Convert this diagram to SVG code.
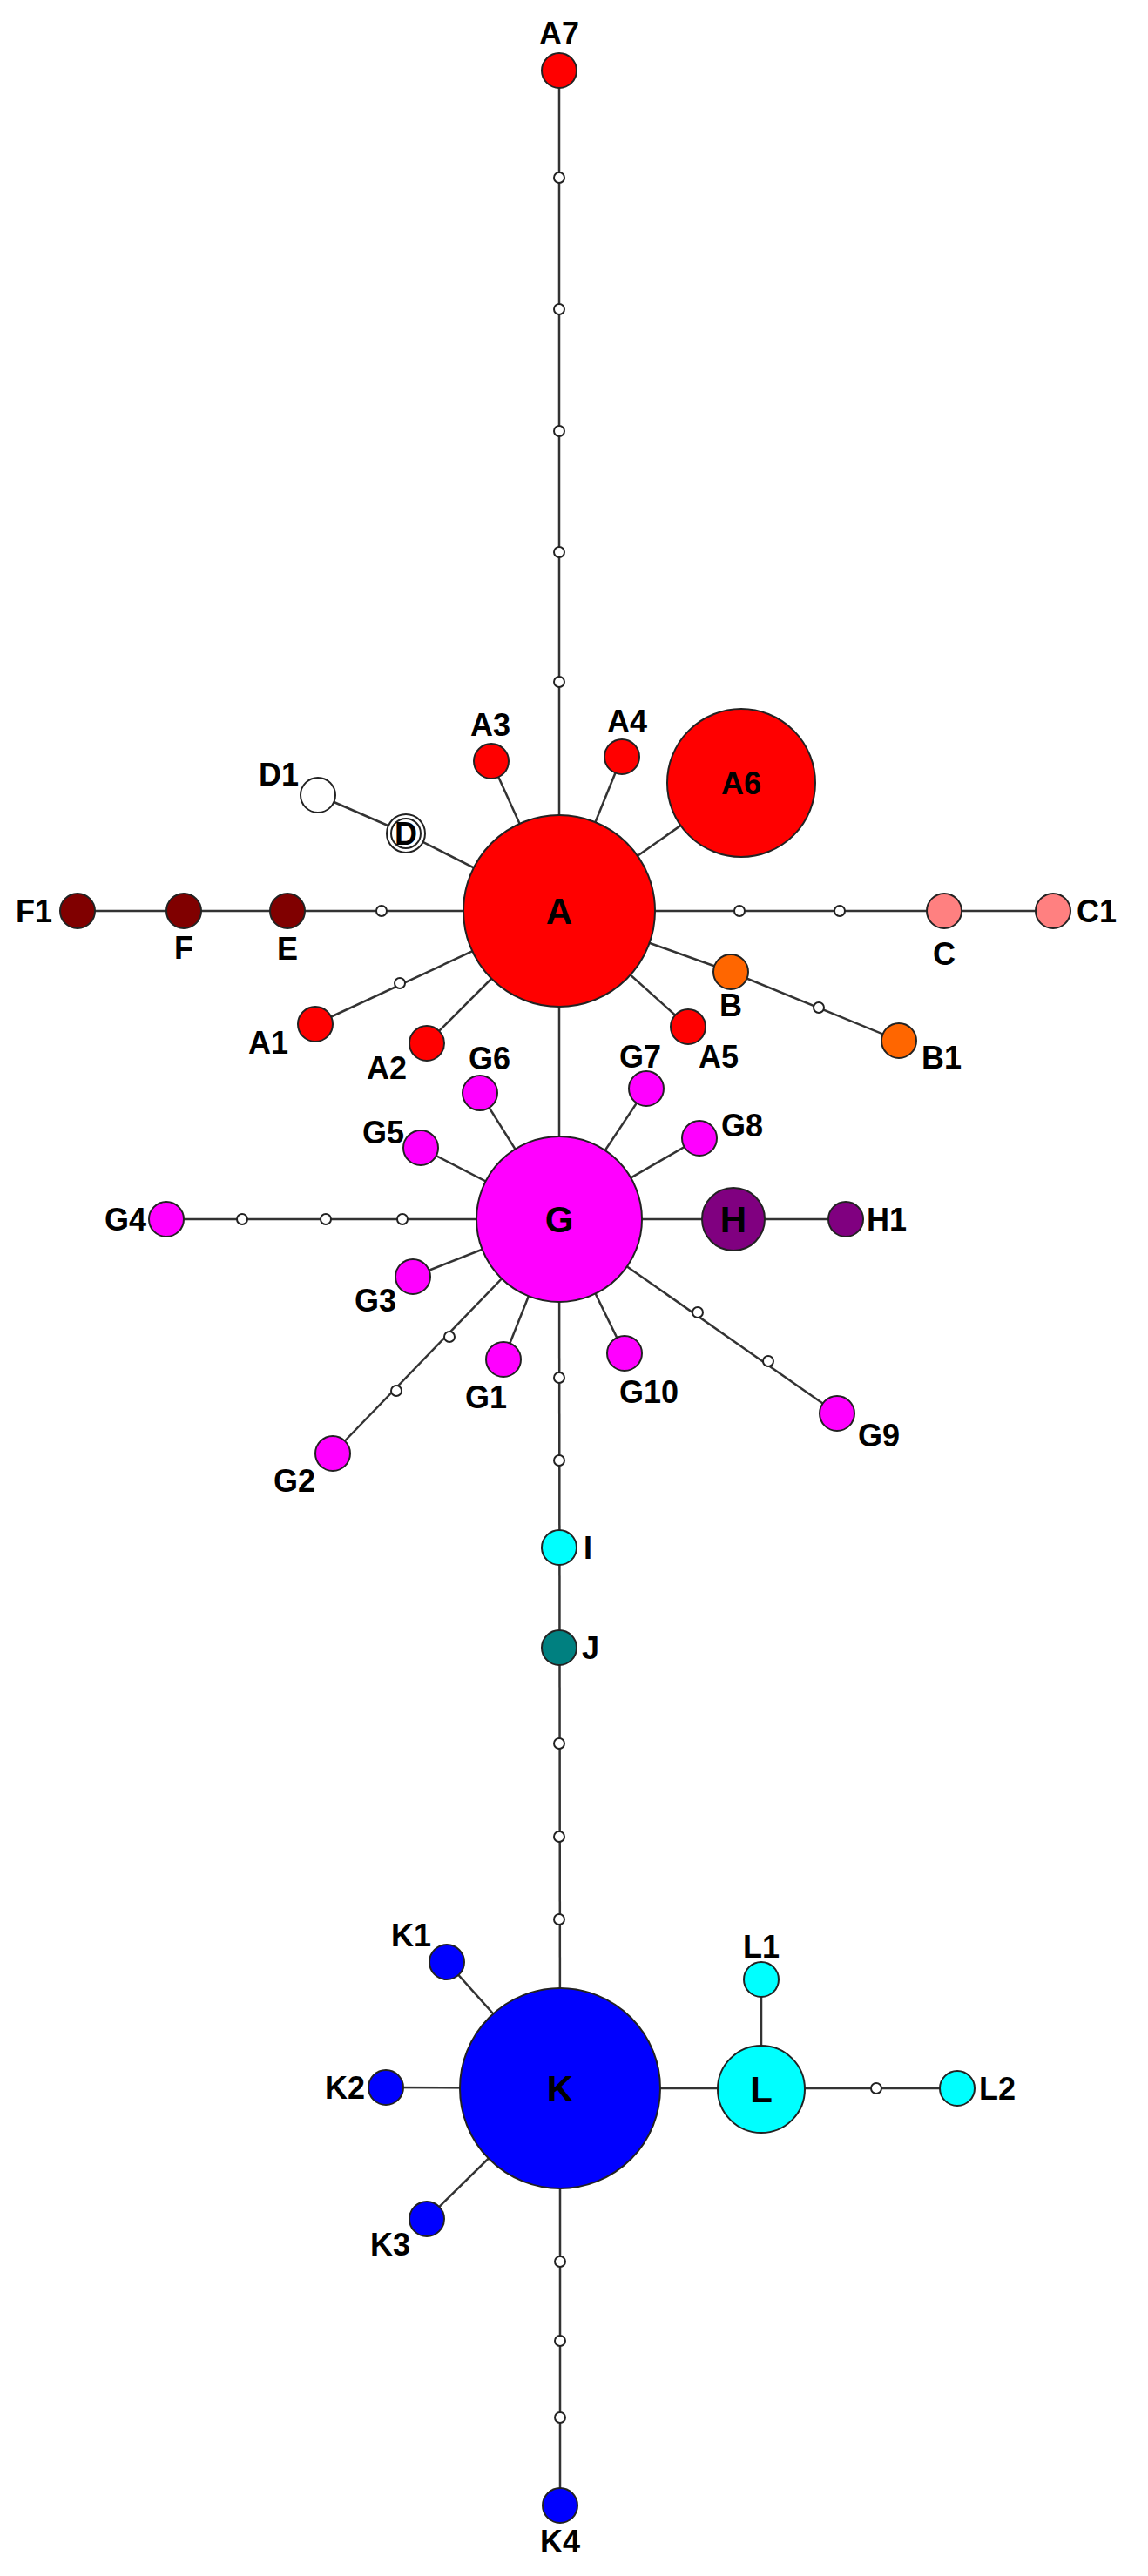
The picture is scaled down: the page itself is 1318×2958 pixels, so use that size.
<svg xmlns="http://www.w3.org/2000/svg" width="1318" height="2958" viewBox="0 0 1318 2958">
<style>
.e{stroke:#333;stroke-width:2.5;fill:none}
.n{stroke:#222;stroke-width:2}
.m{fill:#fff;stroke:#222;stroke-width:2}
text{font-family:"Liberation Sans",Arial,sans-serif;font-weight:bold;font-size:36px;fill:#000;dominant-baseline:central}
.c{text-anchor:middle}.r{text-anchor:end}
.big{font-size:42px}
</style>
<rect width="1318" height="2958" fill="#fff"/>
<g id="connectors">
<line class="e" x1="642" y1="81" x2="642" y2="1046"/>
<line class="e" x1="642" y1="1046" x2="642" y2="1400"/>
<line class="e" x1="642" y1="1400" x2="643" y2="2398"/>
<line class="e" x1="643" y1="2398" x2="643" y2="2877"/>
<line class="e" x1="89" y1="1046" x2="642" y2="1046"/>
<line class="e" x1="642" y1="1046" x2="1209" y2="1046"/>
<line class="e" x1="642" y1="1046" x2="564" y2="874"/>
<line class="e" x1="642" y1="1046" x2="714" y2="869"/>
<line class="e" x1="642" y1="1046" x2="851" y2="899"/>
<line class="e" x1="642" y1="1046" x2="466" y2="957"/>
<line class="e" x1="466" y1="957" x2="365" y2="913"/>
<line class="e" x1="642" y1="1046" x2="362" y2="1176"/>
<line class="e" x1="642" y1="1046" x2="490" y2="1198"/>
<line class="e" x1="642" y1="1046" x2="790" y2="1179"/>
<line class="e" x1="642" y1="1046" x2="839" y2="1116"/>
<line class="e" x1="839" y1="1116" x2="1032" y2="1195"/>
<line class="e" x1="642" y1="1400" x2="551" y2="1255"/>
<line class="e" x1="642" y1="1400" x2="483" y2="1318"/>
<line class="e" x1="642" y1="1400" x2="191" y2="1400"/>
<line class="e" x1="642" y1="1400" x2="474" y2="1466"/>
<line class="e" x1="642" y1="1400" x2="382" y2="1669"/>
<line class="e" x1="642" y1="1400" x2="578" y2="1561"/>
<line class="e" x1="642" y1="1400" x2="717" y2="1554"/>
<line class="e" x1="642" y1="1400" x2="961" y2="1623"/>
<line class="e" x1="642" y1="1400" x2="742" y2="1250"/>
<line class="e" x1="642" y1="1400" x2="803" y2="1307"/>
<line class="e" x1="642" y1="1400" x2="971" y2="1400"/>
<line class="e" x1="643" y1="2398" x2="513" y2="2253"/>
<line class="e" x1="643" y1="2398" x2="443" y2="2397"/>
<line class="e" x1="643" y1="2398" x2="490" y2="2548"/>
<line class="e" x1="643" y1="2398" x2="1099" y2="2398"/>
<line class="e" x1="874" y1="2399" x2="874" y2="2273"/>
</g>
<g id="median-vectors">
<circle class="m" cx="642" cy="204" r="6"/><circle class="m" cx="642" cy="355" r="6"/><circle class="m" cx="642" cy="495" r="6"/><circle class="m" cx="642" cy="634" r="6"/><circle class="m" cx="642" cy="783" r="6"/>
<circle class="m" cx="438" cy="1046" r="6"/><circle class="m" cx="849" cy="1046" r="6"/><circle class="m" cx="964" cy="1046" r="6"/>
<circle class="m" cx="459" cy="1129" r="6"/><circle class="m" cx="940" cy="1157" r="6"/>
<circle class="m" cx="278" cy="1400" r="6"/><circle class="m" cx="374" cy="1400" r="6"/><circle class="m" cx="462" cy="1400" r="6"/>
<circle class="m" cx="516" cy="1535" r="6"/><circle class="m" cx="455" cy="1597" r="6"/>
<circle class="m" cx="801" cy="1507" r="6"/><circle class="m" cx="882" cy="1563" r="6"/>
<circle class="m" cx="642" cy="1582" r="6"/><circle class="m" cx="642" cy="1677" r="6"/>
<circle class="m" cx="642" cy="2002" r="6"/><circle class="m" cx="642" cy="2109" r="6"/><circle class="m" cx="642" cy="2204" r="6"/>
<circle class="m" cx="1006" cy="2398" r="6"/>
<circle class="m" cx="643" cy="2597" r="6"/><circle class="m" cx="643" cy="2688" r="6"/><circle class="m" cx="643" cy="2776" r="6"/>
</g>
<g id="A7"><circle class="n" cx="642" cy="81" r="20" fill="#ff0000"/><text class="c" x="642" y="38">A7</text></g>
<g id="A"><circle class="n" cx="642" cy="1046" r="110" fill="#ff0000"/><text class="c big" x="642" y="1046">A</text></g>
<g id="A6"><circle class="n" cx="851" cy="899" r="85" fill="#ff0000"/><text class="c" x="851" y="899">A6</text></g>
<g id="A3"><circle class="n" cx="564" cy="874" r="20" fill="#ff0000"/><text class="c" x="563" y="832">A3</text></g>
<g id="A4"><circle class="n" cx="714" cy="869" r="20" fill="#ff0000"/><text class="c" x="720" y="828">A4</text></g>
<g id="D1"><circle class="n" cx="365" cy="913" r="20" fill="#fff"/><text class="r" x="343" y="889">D1</text></g>
<g id="D"><circle class="n" cx="466" cy="957" r="22" fill="#fff"/><circle cx="466" cy="957" r="17" fill="none" stroke="#222" stroke-width="2"/><text class="c" x="466" y="957">D</text></g>
<g id="F1"><circle class="n" cx="89" cy="1046" r="20" fill="#800000"/><text class="r" x="60" y="1046">F1</text></g>
<g id="F"><circle class="n" cx="211" cy="1046" r="20" fill="#800000"/><text class="c" x="211" y="1088">F</text></g>
<g id="E"><circle class="n" cx="330" cy="1046" r="20" fill="#800000"/><text class="c" x="330" y="1089">E</text></g>
<g id="C"><circle class="n" cx="1084" cy="1046" r="20" fill="#ff8080"/><text class="c" x="1084" y="1095">C</text></g>
<g id="C1"><circle class="n" cx="1209" cy="1046" r="20" fill="#ff8080"/><text x="1236" y="1046">C1</text></g>
<g id="B"><circle class="n" cx="839" cy="1116" r="20" fill="#ff6600"/><text class="c" x="839" y="1154">B</text></g>
<g id="B1"><circle class="n" cx="1032" cy="1195" r="20" fill="#ff6600"/><text x="1058" y="1214">B1</text></g>
<g id="A5"><circle class="n" cx="790" cy="1179" r="20" fill="#ff0000"/><text x="802" y="1213">A5</text></g>
<g id="A2"><circle class="n" cx="490" cy="1198" r="20" fill="#ff0000"/><text class="r" x="467" y="1226">A2</text></g>
<g id="A1"><circle class="n" cx="362" cy="1176" r="20" fill="#ff0000"/><text class="r" x="331" y="1197">A1</text></g>
<g id="G"><circle class="n" cx="642" cy="1400" r="95" fill="#ff00ff"/><text class="c big" x="642" y="1400">G</text></g>
<g id="G6"><circle class="n" cx="551" cy="1255" r="20" fill="#ff00ff"/><text class="c" x="562" y="1215">G6</text></g>
<g id="G5"><circle class="n" cx="483" cy="1318" r="20" fill="#ff00ff"/><text class="r" x="464" y="1300">G5</text></g>
<g id="G4"><circle class="n" cx="191" cy="1400" r="20" fill="#ff00ff"/><text class="r" x="168" y="1400">G4</text></g>
<g id="G3"><circle class="n" cx="474" cy="1466" r="20" fill="#ff00ff"/><text class="r" x="455" y="1493">G3</text></g>
<g id="G2"><circle class="n" cx="382" cy="1669" r="20" fill="#ff00ff"/><text class="r" x="362" y="1700">G2</text></g>
<g id="G1"><circle class="n" cx="578" cy="1561" r="20" fill="#ff00ff"/><text class="c" x="558" y="1604">G1</text></g>
<g id="G10"><circle class="n" cx="717" cy="1554" r="20" fill="#ff00ff"/><text class="c" x="745" y="1598">G10</text></g>
<g id="G9"><circle class="n" cx="961" cy="1623" r="20" fill="#ff00ff"/><text x="985" y="1648">G9</text></g>
<g id="G7"><circle class="n" cx="742" cy="1250" r="20" fill="#ff00ff"/><text class="c" x="735" y="1213">G7</text></g>
<g id="G8"><circle class="n" cx="803" cy="1307" r="20" fill="#ff00ff"/><text x="828" y="1292">G8</text></g>
<g id="H"><circle class="n" cx="842" cy="1400" r="36" fill="#800080"/><text class="c big" x="842" y="1400">H</text></g>
<g id="H1"><circle class="n" cx="971" cy="1400" r="20" fill="#800080"/><text x="995" y="1400">H1</text></g>
<g id="I"><circle class="n" cx="642" cy="1777" r="20" fill="#00ffff"/><text x="670" y="1777">I</text></g>
<g id="J"><circle class="n" cx="642" cy="1892" r="20" fill="#008080"/><text x="668" y="1892">J</text></g>
<g id="K"><circle class="n" cx="643" cy="2398" r="115" fill="#0000ff"/><text class="c big" x="643" y="2398">K</text></g>
<g id="K1"><circle class="n" cx="513" cy="2253" r="20" fill="#0000ff"/><text class="c" x="472" y="2222">K1</text></g>
<g id="K2"><circle class="n" cx="443" cy="2397" r="20" fill="#0000ff"/><text class="r" x="419" y="2397">K2</text></g>
<g id="K3"><circle class="n" cx="490" cy="2548" r="20" fill="#0000ff"/><text class="c" x="448" y="2577">K3</text></g>
<g id="K4"><circle class="n" cx="643" cy="2877" r="20" fill="#0000ff"/><text class="c" x="643" y="2918">K4</text></g>
<g id="L"><circle class="n" cx="874" cy="2399" r="50" fill="#00ffff"/><text class="c big" x="874" y="2399">L</text></g>
<g id="L1"><circle class="n" cx="874" cy="2273" r="20" fill="#00ffff"/><text class="c" x="874" y="2235">L1</text></g>
<g id="L2"><circle class="n" cx="1099" cy="2398" r="20" fill="#00ffff"/><text x="1124" y="2398">L2</text></g>
</svg>
